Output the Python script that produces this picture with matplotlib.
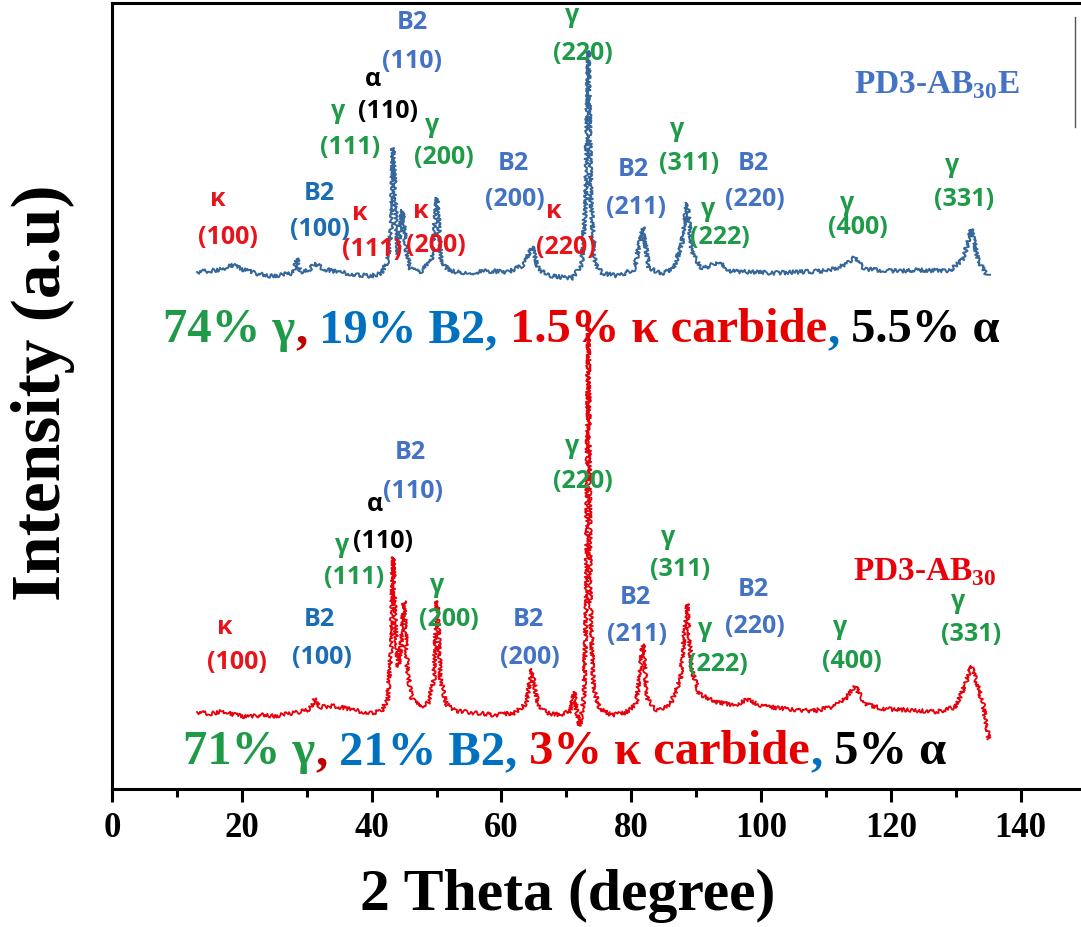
import numpy as np
import matplotlib
matplotlib.use('Agg')
import matplotlib.pyplot as plt

plt.rcParams['font.family'] = ['Liberation Serif', 'DejaVu Serif']
plt.rcParams['font.weight'] = 'bold'
plt.rcParams['axes.labelweight'] = 'bold'
plt.rcParams['mathtext.fontset'] = 'custom'
plt.rcParams['mathtext.rm'] = 'Liberation Serif:bold'
plt.rcParams['mathtext.bf'] = 'Liberation Serif:bold'

# patron PD3-AB30 (rojo)
theta_red = [13.1, 15, 17, 19, 21, 23, 25, 27, 29, 30.5, 31.3, 32, 34, 36, 38, 40, 41.5,
             42.5, 43.0, 43.3, 43.7, 44.1, 44.5, 45.0, 45.5, 46.2, 47.5, 48.8, 49.6, 50.1,
             50.6, 51.5, 53, 56, 59, 62, 63.8, 64.7, 65.6, 67, 69, 70.6, 71.2, 71.6, 72.1,
             72.7, 73.1, 73.4, 73.7, 74.2, 75.2, 77, 79, 80.8, 81.8, 82.5, 84, 86, 87.6,
             88.6, 89.3, 90.5, 93, 96, 98, 100, 104, 108, 111, 113, 114.5, 116, 119, 123,
             127, 130, 131.5, 132.4, 133.3, 134.2, 135.1]
int_red = [77, 75, 78, 74, 72, 74, 73, 75, 77, 80, 91, 82, 83, 81, 78, 76, 78,
           90, 140, 232, 160, 122, 140, 188, 120, 90, 82, 87, 110, 188,
           110, 85, 78, 76, 74, 76, 85, 120, 85, 76, 74, 78, 97, 78, 63,
           90, 190, 470, 190, 100, 80, 74, 76, 85, 145, 90, 78, 84, 110,
           185, 120, 95, 87, 84, 90, 83, 80, 78, 82, 90, 103, 85, 80, 79,
           77, 82, 105, 123, 105, 85, 50]

# patron PD3-AB30E (azul), se desplaza hacia arriba
theta_blue = [13.1, 15, 17, 18.5, 20, 22, 24, 26, 28, 28.5, 29, 30.5, 31.3, 32.5, 35, 38,
              40, 41.5, 42.5, 43.0, 43.3, 43.7, 44.1, 44.4, 44.8, 45.3, 46, 47.5, 49.2,
              50.1, 50.7, 52, 55, 58, 61, 63.5, 64.7, 65.7, 67, 69, 71, 72.4, 73.0, 73.4,
              73.8, 74.4, 75.5, 78, 80.5, 81.8, 82.7, 84.5, 86.5, 87.8, 88.6, 89.4, 91,
              93.7, 95, 98, 102, 106, 110, 113, 114.5, 116, 120, 125, 129, 131.2, 132.4,
              133.5, 134.5, 135.1]
int_blue = [77, 78, 80, 84, 80, 76, 73, 74, 76, 91, 77, 80, 86, 80, 77, 74,
            73, 76, 88, 120, 201, 140, 95, 122, 139, 100, 80, 77, 88,
            151, 88, 78, 76, 78, 77, 84, 103, 80, 74, 72, 71, 85, 150, 298,
            150, 85, 76, 73, 80, 122, 82, 75, 80, 105, 146, 95, 80,
            88, 78, 77, 76, 77, 78, 84, 92, 80, 78, 79, 78, 90, 120,
            88, 77, 73]
offset_blue = 440

verde = '#1E9A48'
rojo = '#E8141C'
azul = '#4472C4'
azul2 = '#1A6DB5'
negro = 'black'

# etiquetas de picos: (texto, color, 2theta, intensidad)
picos_azul = [('κ', rojo, 16.3, 590), ('(100)', rojo, 17.9, 553),
              ('B2', azul2, 32.0, 597), ('(100)', azul2, 32.0, 560),
              ('κ', rojo, 38.2, 577), ('(111)', rojo, 40.1, 540),
              ('κ', rojo, 47.6, 579), ('(200)', rojo, 49.9, 545),
              ('γ', verde, 34.8, 678), ('(111)', verde, 36.7, 642),
              ('α', negro, 40.2, 710), ('(110)', negro, 42.5, 678),
              ('B2', azul, 46.2, 768), ('(110)', azul, 46.2, 728),
              ('γ', verde, 49.3, 665), ('(200)', verde, 51.2, 632),
              ('B2', azul, 61.8, 627), ('(200)', azul, 62.1, 590),
              ('κ', rojo, 68.0, 579), ('(220)', rojo, 70.0, 543),
              ('γ', verde, 70.9, 775), ('(220)', verde, 72.6, 737),
              ('B2', azul, 80.3, 620), ('(211)', azul, 80.7, 582),
              ('γ', verde, 87.1, 660), ('(311)', verde, 88.9, 627),
              ('B2', azul, 98.8, 627), ('(220)', azul, 99.1, 590),
              ('γ', verde, 91.8, 580), ('(222)', verde, 93.7, 552),
              ('γ', verde, 113.3, 587), ('(400)', verde, 114.9, 563),
              ('γ', verde, 129.4, 625), ('(331)', verde, 131.3, 590)]
picos_rojo = [('κ', rojo, 17.4, 162), ('(100)', rojo, 19.3, 127),
              ('B2', azul2, 32.0, 170), ('(100)', azul2, 32.4, 132),
              ('B2', azul, 45.9, 337), ('(110)', azul, 46.4, 298),
              ('α', negro, 40.5, 285), ('γ', verde, 35.4, 245),
              ('(110)', negro, 41.8, 248), ('(111)', verde, 37.3, 212),
              ('γ', verde, 50.1, 205), ('(200)', verde, 51.9, 170),
              ('B2', azul, 64.1, 170), ('(200)', azul, 64.4, 132),
              ('γ', verde, 70.9, 343), ('(220)', verde, 72.6, 308),
              ('γ', verde, 85.7, 253), ('(311)', verde, 87.5, 220),
              ('B2', azul, 80.6, 192), ('(211)', azul, 80.9, 155),
              ('γ', verde, 91.4, 160), ('(222)', verde, 93.4, 125),
              ('B2', azul, 98.8, 200), ('(220)', azul, 99.1, 163),
              ('γ', verde, 112.2, 162), ('(400)', verde, 114.0, 128),
              ('γ', verde, 130.4, 188), ('(331)', verde, 132.4, 155)]

# fracciones de fase escritas en cada patron
fases_azul = [('74% γ', verde), (',', '#C00000'), (' 19% B2,', '#0070C0'),
              (' 1.5% κ carbide', '#E60000'), (',', '#0070C0'), (' 5.5% α', negro)]
fases_rojo = [('71% γ', verde), (',', '#C00000'), (' 21% B2,', '#0070C0'),
              (' 3% κ carbide', '#E60000'), (',', '#0070C0'), (' 5% α', negro)]

fig = plt.figure(figsize=(10.81, 9.28), dpi=100)
ax = fig.add_axes([112/1081, 138/928, 150*6.49/1081, 786/928])

l1, = ax.plot(theta_blue, np.array(int_blue) + offset_blue, color='#36679B', lw=1.4)
l2, = ax.plot(theta_red, int_red, color='#E8000B', lw=1.3)
for l in (l1, l2):
    l.set_sketch_params(scale=2.0, length=1.2, randomness=10)

for lista in (picos_azul, picos_rojo):
    for txt, c, x, y in lista:
        ax.text(x, y, txt, color=c, fontsize=18, family=['Open Sans', 'DejaVu Sans'],
                weight='bold', ha='center', va='center')


def texto_color(x, y, partes):
    t = ax.text(x, y, partes[0][0], color=partes[0][1], fontsize=35, va='center')
    for s, c in partes[1:]:
        t = ax.annotate(s, xy=(1, 0), xycoords=t, va='bottom', ha='left',
                        color=c, fontsize=35)


texto_color(7.85, 460, fases_azul)
texto_color(10.9, 38, fases_rojo)

ax.text(127.1, 705, r'PD3-AB$_{30}$E', color=azul, fontsize=24, ha='center', va='center')
ax.text(125.3, 218, r'PD3-AB$_{30}$', color='#E8000B', fontsize=24, ha='center', va='center')

# borde suelto arriba a la derecha
ax.plot([148.4, 148.4], [662, 772], color='#555555', lw=1)

ax.set_xlim(0, 150)
ax.set_ylim(0, 786)
ax.set_xticks(np.arange(0, 141, 20))
ax.set_xticks(np.arange(10, 150, 20), minor=True)
ax.set_yticks([])
ax.tick_params(axis='x', which='major', direction='out', length=9.5, width=2.2,
               labelsize=25, pad=6)
ax.tick_params(axis='x', which='minor', direction='out', length=6, width=2.2)
for s in ax.spines.values():
    s.set_linewidth(2.2)

ax.set_xlabel('2 Theta (degree)', fontsize=43)
ax.xaxis.set_label_coords(0.468, -0.10)
ax.set_ylabel('Intensity (a.u)', fontsize=50)
ax.yaxis.set_label_coords(-0.038, 0.506)

fig.savefig('out.png', dpi=100)
